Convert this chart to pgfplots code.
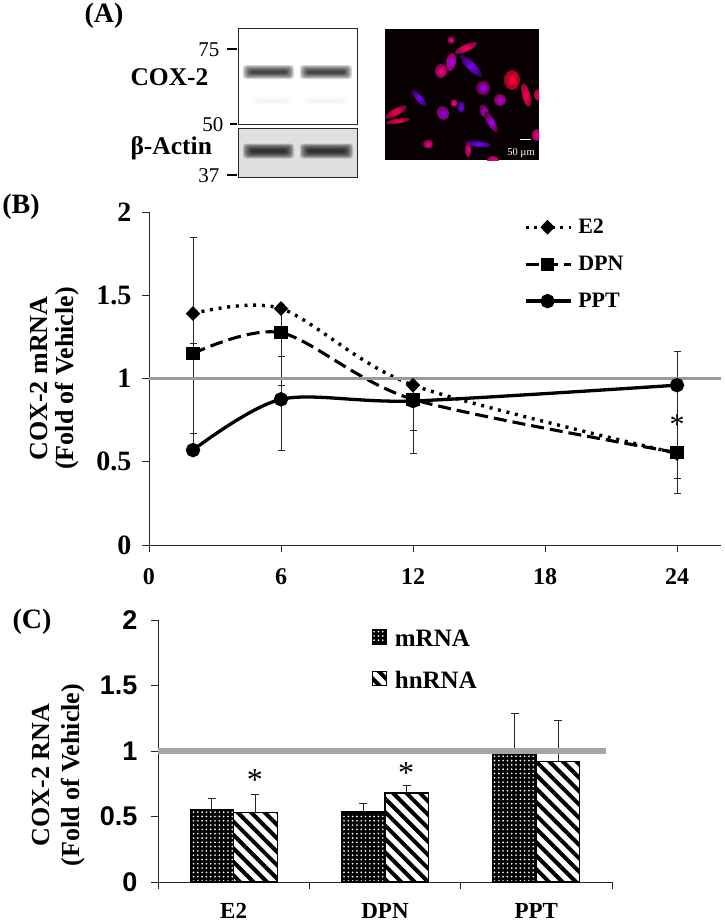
\documentclass[border=0pt]{standalone}
\usepackage{fontspec}
\setmainfont{Liberation Serif}
\newfontfamily\hv{Liberation Sans}
\usepackage{pgfplots}
\pgfplotsset{compat=1.18}
\usetikzlibrary{patterns.meta}

% font in px-sized points, the page is 725x924
\newcommand{\fs}[1]{\fontsize{#1}{#1}\selectfont\bfseries}

% one blurred western blot band
\newcommand{\band}[5]{%
  \foreach \i in {0,...,7}{
    \fill[black,opacity=#5,rounded corners=3pt]
      ({#1-4+\i*1.1},{#3-#4/2-4+\i*0.85}) rectangle ({#2+4-\i*1.1},{#3+#4/2+4-\i*0.85});
  }}

% one cell in the micrograph, positions in px
\newcommand{\cell}[7]{%
  \begin{scope}[shift={(#1,#2)},rotate=#5]
    \shade[inner color=#6,outer color=#7] (0,0) ellipse ({#3} and {#4});
  \end{scope}}

\begin{document}
\begin{tikzpicture}
\fill[white] (0pt,0pt) rectangle (725pt,-924pt);
\path[use as bounding box] (0pt,0pt) rectangle (725pt,-924pt);

\begin{scope}[x=1pt,y=-1pt]
% panel A
\node[font=\fs{28}] at (104,16) {(A)};
\node[font=\fs{25.5},anchor=west] at (127,77) {COX-2};
\node[font=\fs{25.5},anchor=west] at (127,148) {β-Actin};
\node[font=\fontsize{21}{21}\selectfont,anchor=east] at (223,50) {75};
\node[font=\fontsize{21}{21}\selectfont,anchor=east] at (227,125) {50};
\node[font=\fontsize{21}{21}\selectfont,anchor=east] at (223,176) {37};
\draw[line width=1.8pt] (227,49)--(237,49) (230,124)--(237,124) (227,175)--(237,175);
\fill[black!12] (238,128) rectangle (357,177);
\band{247}{290}{72}{6}{0.15}
\band{304}{348}{72}{6}{0.15}
\band{255}{287}{101}{1}{0.008}
\band{307}{346}{101}{1}{0.008}
\band{247}{290}{151}{7}{0.17}
\band{304}{349}{151}{7}{0.17}
\draw[line width=.9pt,black!85] (238,28) rectangle (357,124);
\draw[line width=.9pt,black!85] (238,128) rectangle (357,177);

\begin{scope}
\clip (384.5,29) rectangle (539,160);
\fill[black!97!red] (384.5,29) rectangle (539,160);
\def\pk{red!50!magenta}
\def\pu{blue!50!magenta}
\def\mg{magenta!60!red}
\cell{451}{40}{3.5}{3.5}{0}{\pk}{\mg!50!black}
\cell{466}{48}{12}{3.5}{25}{red!60!magenta}{\mg!50!black}
\cell{451}{62}{5}{9}{-10}{\pu!70!magenta}{\pk!60!black}
\cell{441}{71}{6}{7}{0}{\pk}{\mg!50!black}
\cell{471}{66}{15}{4}{-45}{\pu}{\pu!40!black}
\cell{512}{80}{8}{10}{0}{red!80!magenta}{red!75!magenta!60!black}
\cell{483}{88}{7}{7}{0}{\pu!70!magenta}{\mg!40!black}
\cell{526}{95}{4}{12}{15}{red!75!magenta}{\pk!60!black}
\cell{500}{100}{6}{6}{0}{\pu!60!magenta}{\pk!50!black}
\cell{419}{98}{11}{3}{-50}{\pu}{\pu!40!black}
\cell{454}{103}{3.5}{3.5}{0}{\pk}{\mg!60!black}
\cell{461}{107}{3.5}{6}{0}{\pu}{\pu!40!black}
\cell{443}{113}{6}{7}{20}{\pu}{\mg!50!black}
\cell{484}{111}{4}{7}{20}{\pu!70!magenta}{\mg!40!black}
\cell{396}{112}{12}{3.5}{30}{red!70!magenta}{\pk!50!black}
\cell{398}{121}{12}{2.5}{10}{red!70!magenta}{\pk!50!black}
\cell{491}{122}{3.5}{12}{30}{\pu!70!magenta}{\mg!40!black}
\cell{428}{144}{5}{4.5}{0}{\pk}{\mg!50!black}
\cell{478}{144}{13}{3}{-8}{\pu}{\pu!40!black}
\cell{468}{150}{3}{7}{0}{\pk}{\mg!50!black}
\cell{537}{135}{5}{6}{0}{\pk}{\mg!60!black}
\cell{538}{95}{4}{6}{0}{red!75!magenta}{\mg!60!black}
\cell{493}{160}{6}{4}{0}{\pk}{\mg!60!black}
\end{scope}
\draw[white,line width=.9pt] (520,139.5)--(531,139.5);
\node[white,font=\fontsize{10.5}{10.5}\selectfont] at (521,153.5) {50 µm};

\node[font=\fs{28}] at (21,207) {(B)};
\node[font=\fs{28}] at (32,622) {(C)};
\end{scope}

% panel B
\begin{axis}[
    at={(149pt,-545pt)}, anchor=south west,
    scale only axis, width=572pt, height=333pt,
    xmin=0, xmax=26, ymin=0, ymax=2,
    axis lines*=left,
    axis line style={-,line width=.9pt,black!85},
    tick style={black!85,line width=.9pt},
    tick align=outside,
    major tick length=7pt,
    xtick={0,6,12,18,24}, ytick={0,0.5,1,1.5,2},
    x tick label style={font=\fs{24},yshift=-13pt},
    y tick label style={font=\fs{28},xshift=-7pt},
    /pgf/number format/assume math mode=true,
    ylabel={COX-2 mRNA\\(Fold of Vehicle)},
    ylabel style={font=\bfseries\fontsize{26}{26}\selectfont,align=center,
      at={(axis description cs:-0.165,0.5)},anchor=center},
    clip=false,
    legend cell align=left,
    legend style={draw=none,fill=none,at={(0.655,0.985)},anchor=north west,
      font=\fs{22},row sep=17pt,inner sep=0pt},
    legend image code/.code={
      \draw[mark repeat=2,mark phase=2,#1] plot coordinates {(0pt,0pt)(22pt,0pt)(45pt,0pt)};
    },
    error bars/y dir=both, error bars/y explicit,
    error bars/error bar style={solid,black!85,line width=1pt},
    error bars/error mark options={solid,black!85,rotate=90,mark size=3.5pt,line width=.9pt},
]
\addplot[smooth,black,line width=3.4pt,dash pattern=on 3pt off 5.7pt,
    mark=diamond*,mark size=5pt,mark options={solid,fill=black,xscale=1.3}]
  coordinates {(2,1.39) += (0,0.46) -= (0,0.24) (6,1.42) -= (0,0.29) (12,0.96) -= (0,0.27) (24,0.55) -= (0,0.24)};
\addlegendentry{\hspace{4pt}E2}
\addplot[smooth,black,line width=3.1pt,dash pattern=on 13pt off 6pt,
    mark=square*,mark size=5pt,mark options={solid,fill=black}]
  coordinates {(2,1.15) += (0,0.06) -= (0,0.58) (6,1.275) -= (0,0.705) (12,0.875) (24,0.555) -= (0,0.155)};
\addlegendentry{\hspace{4pt}DPN}
\addplot[smooth,black,line width=3.3pt,
    mark=*,mark size=5.5pt,mark options={solid,fill=black}]
  coordinates {(2,0.57) += (0,0.10) (6,0.875) += (0,0.085) (12,0.865) -= (0,0.315) (24,0.96) += (0,0.20) -= (0,0.41)};
\addlegendentry{\hspace{4pt}PPT}
\addplot[forget plot,black!40,line width=2.6pt] coordinates {(0,1) (26,1)};
\node[font=\fontsize{30}{30}\selectfont] at (axis cs:24,0.72) {*};
\end{axis}

% panel C
\begin{axis}[
    at={(158pt,-882pt)}, anchor=south west,
    scale only axis, width=454pt, height=262pt,
    xmin=0, xmax=3, ymin=0, ymax=2,
    ybar=0pt, bar width=43.5pt,
    axis lines*=left,
    axis line style={-,line width=.9pt,black!85},
    tick style={black!85,line width=.9pt},
    tick align=outside,
    major tick length=7pt,
    xtick={0,1,2,3}, xticklabels={E2,DPN,PPT},
    x tick label as interval,
    ytick={0,0.5,1,1.5,2},
    x tick label style={font=\fs{23},yshift=-11pt},
    y tick label style={font=\hv\fs{27},xshift=-10pt},
    /pgf/number format/assume math mode=true,
    ylabel={COX-2 RNA\\(Fold of Vehicle)},
    ylabel style={font=\bfseries\fontsize{26}{30}\selectfont,align=center,
      at={(axis description cs:-0.218,0.408)},anchor=center},
    clip=false,
    legend cell align=left,
    legend style={draw=none,fill=none,at={(0.47,0.97)},anchor=north west,
      font=\fs{25},row sep=19pt,inner sep=0pt},
    legend image code/.code={
      \draw[#1] (0pt,-5pt) rectangle (14pt,9pt);
    },
    error bars/y dir=plus, error bars/y explicit,
    error bars/error bar style={black!85,line width=1pt},
    error bars/error mark options={black!85,rotate=90,mark size=4pt,line width=1pt},
]
\addplot[draw=black,line width=1.3pt,fill=black,
    postaction={pattern={Dots[radius=.95pt,distance=4.3pt]},pattern color=white}]
  coordinates {(0.5,0.555) +- (0,0.085) (1.5,0.535) +- (0,0.065) (2.5,0.99) +- (0,0.30)};
\addlegendentry{\hspace{6pt}mRNA}
\addplot[draw=black,line width=1.3pt,fill=white,
    postaction={pattern={Lines[angle=-45,distance=9.5pt,line width=4pt]},pattern color=black}]
  coordinates {(0.5,0.53) +- (0,0.14) (1.5,0.68) +- (0,0.06) (2.5,0.92) +- (0,0.31)};
\addlegendentry{\hspace{6pt}hnRNA}
\node[font=\fontsize{32}{32}\selectfont] at (axis cs:0.64,0.775) {*};
\node[font=\fontsize{32}{32}\selectfont] at (axis cs:1.64,0.835) {*};
\end{axis}
% reference band over the bars, in an axis of the same size
\begin{axis}[
    at={(158pt,-882pt)}, anchor=south west,
    scale only axis, width=454pt, height=262pt,
    xmin=0, xmax=3, ymin=0, ymax=2,
    hide axis,
]
\addplot[fill=black!35,draw=none] coordinates {(0,0.98) (2.96,0.98) (2.96,1.02) (0,1.02)} --cycle;
\end{axis}
\end{tikzpicture}
\end{document}
